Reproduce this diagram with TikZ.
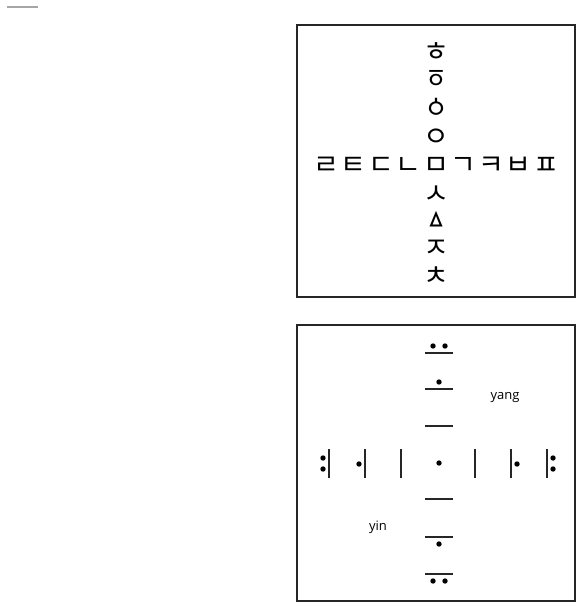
\documentclass[tikz,border=0pt]{standalone}
\usepackage{fontspec}
\setmainfont{Open Sans}
\newfontfamily\kr{Noto Sans CJK KR}
\begin{document}
\begin{tikzpicture}[x=1pt,y=-1pt,
  frame/.style={draw=black!85, line width=1.3pt},
  jamo/.style={font=\kr\fontsize{28}{28}\selectfont, inner sep=0pt, anchor=center},
  bar/.style={line width=2.8pt, draw=black!85},
  dotf/.style={fill=black},
  lbl/.style={font=\fontsize{13}{15}\selectfont, inner sep=0pt}]
\useasboundingbox (0,0) rectangle (584,605);
\draw[gray!70, line width=2.5pt] (7,7) -- (38,7);
% top box
\draw[frame] (297,25) rectangle (575,297);
\node[jamo] (h)  at (436,52)  {ㅎ};
\node[jamo] (yh) at (436,79)  {ㆆ};
\node[jamo] (ys) at (436,108) {ㆁ};
\node[jamo] (ng) at (436,138) {ㅇ};
\node[jamo] (m)  at (436,166) {ㅁ};
\node[jamo] (s)  at (436,195) {ㅅ};
\node[jamo] (bs) at (436,221) {ㅿ};
\node[jamo] (j)  at (436,249) {ㅈ};
\node[jamo] (ch) at (436,276) {ㅊ};
\node[jamo] (r)  at (326,166) {ㄹ};
\node[jamo] (t)  at (353.5,166) {ㅌ};
\node[jamo] (d)  at (381,166) {ㄷ};
\node[jamo] (n)  at (408.5,166) {ㄴ};
\node[jamo] (g)  at (463.5,166) {ㄱ};
\node[jamo] (k)  at (491,166) {ㅋ};
\node[jamo] (b)  at (518.5,166) {ㅂ};
\node[jamo] (p)  at (546,166) {ㅍ};
% bottom box
\draw[frame] (297,325) rectangle (575,601);
% horizontal bars (vertical column)
\foreach \yy in {353,389,426,499,537,574}
  \draw[bar] (425,\yy) -- (453,\yy);
\fill[dotf] (433,346) circle (2.7) (445,346) circle (2.7);
\fill[dotf] (439,382) circle (2.7);
\fill[dotf] (439,463) circle (2.7);
\fill[dotf] (439,544) circle (2.7);
\fill[dotf] (433,581) circle (2.7) (445,581) circle (2.7);
% vertical bars (horizontal row)
\foreach \xx in {329,365,401,475,511,547}
  \draw[bar] (\xx,449) -- (\xx,478);
\fill[dotf] (323,458) circle (2.7) (323,469) circle (2.7);
\fill[dotf] (359,464) circle (2.7);
\fill[dotf] (517,464) circle (2.7);
\fill[dotf] (553,458) circle (2.7) (553,469) circle (2.7);
\node[lbl] (yang) at (505,398) {yang};
\node[lbl] (yin)  at (378,527) {yin};
\end{tikzpicture}
\end{document}
